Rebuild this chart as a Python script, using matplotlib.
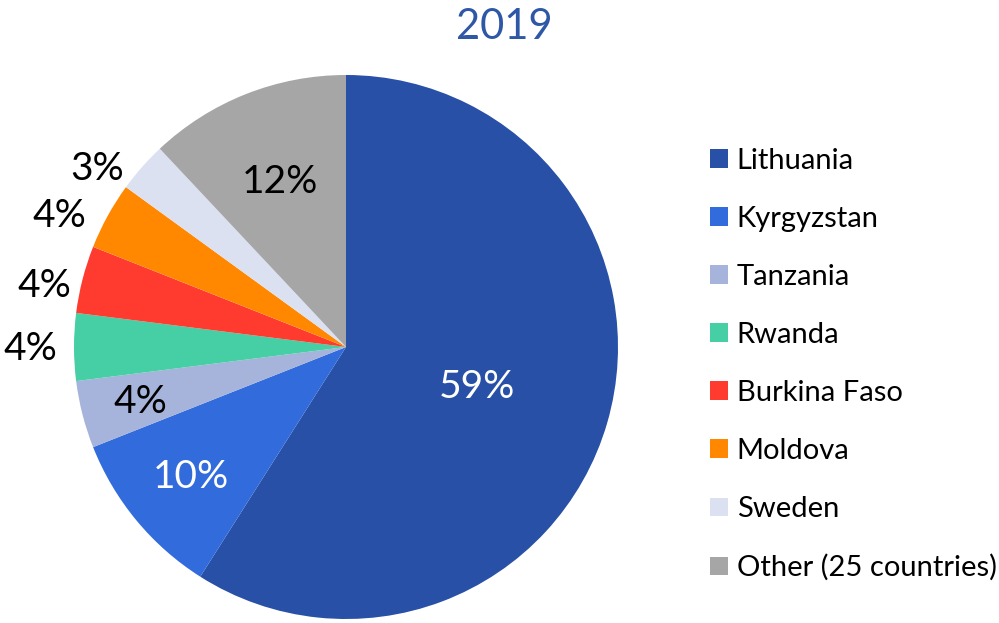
import numpy as np
import matplotlib.pyplot as plt

### data
countries = ['Lithuania', 'Kyrgyzstan', 'Tanzania', 'Rwanda', 'Burkina Faso',
             'Moldova', 'Sweden', 'Other (25 countries)']
shares = [59, 10, 4, 4, 4, 4, 3, 12]
colors = ['#2750A6', '#326BDB', '#A6B3DB', '#46CFA5', '#FF3B30',
          '#FF8800', '#DCE1F1', '#A6A6A6']
# label colour, distance from centre (in radii) and angle nudge (deg) per slice
label_colors = ['white', 'white', 'black', 'black', 'black', 'black', 'black', 'black']
label_dist = [0.50, 0.74, 0.78, 1.16, 1.133, 1.163, 1.13, 0.66]
label_nudge = [0, 0, 0, 0, 2.5, 3.9, 5.5, 0]

plt.rcParams['font.family'] = ['Lato', 'DejaVu Sans']

fig = plt.figure(figsize=(9.99, 6.23), dpi=100)
# pie centre ~ (346, 347) px, radius ~272 px
ax = fig.add_axes([74 / 999, 4 / 623, 544 / 999, 544 / 623])

wedges, _ = ax.pie(shares, colors=colors, startangle=90, counterclock=False,
                   radius=1.0, wedgeprops=dict(linewidth=0))
ax.set_xlim(-1, 1)
ax.set_ylim(-1, 1)
ax.set_aspect('equal')

for w, val, c, d, nd in zip(wedges, shares, label_colors, label_dist, label_nudge):
    ang = np.deg2rad((w.theta1 + w.theta2) / 2 + nd)
    ax.text(d * np.cos(ang), d * np.sin(ang) + 0.005, '{}%'.format(val),
            ha='center', va='center_baseline', fontsize=28, color=c)

fig.text(504 / 999, 1 - 39 / 623, '2019', ha='center', va='baseline',
         fontsize=30, color='#2E58A6')

fig.legend(wedges, countries, loc='center left',
           bbox_to_anchor=(710 / 999, 1 - 364.5 / 623),
           frameon=False, fontsize=21, handlelength=0.62, handleheight=0.62,
           handletextpad=0.3, labelspacing=1.10, borderpad=0, borderaxespad=0)

plt.savefig('out.png', dpi=100)
